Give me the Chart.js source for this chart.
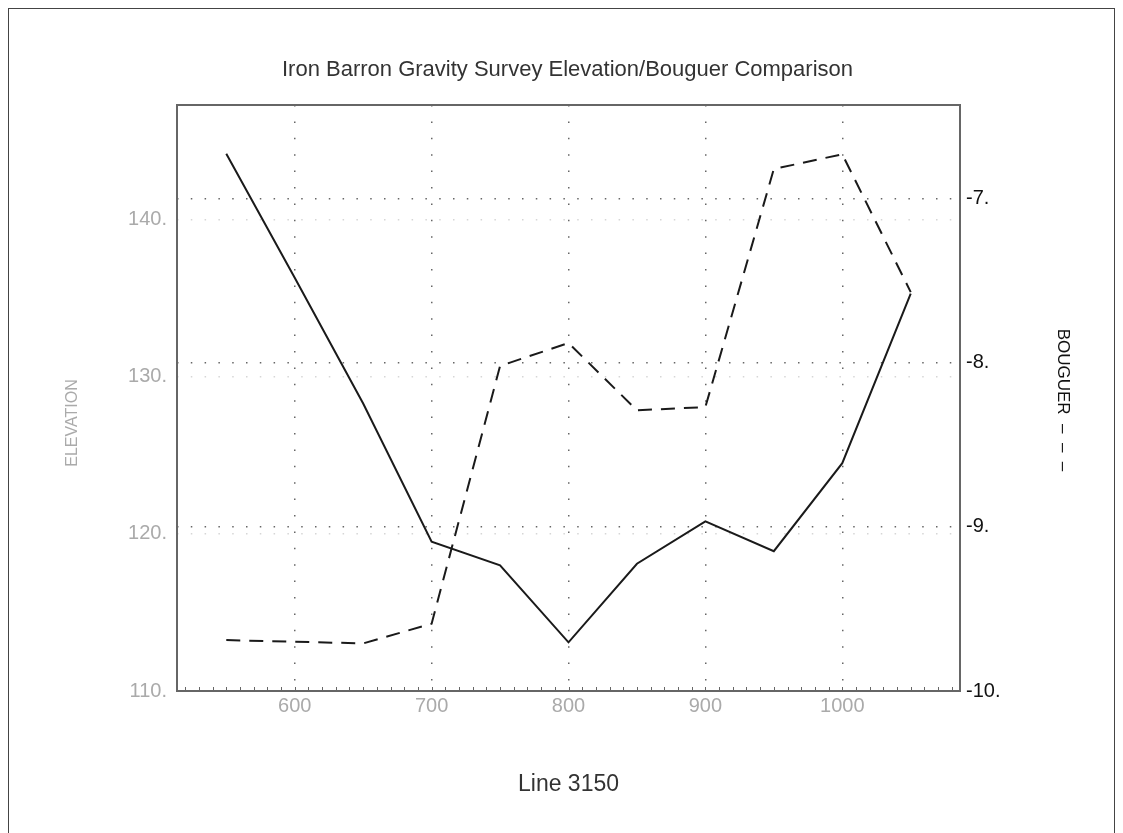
<!DOCTYPE html>
<html>
<head>
<meta charset="utf-8">
<script src="https://cdn.jsdelivr.net/npm/chart.js"></script>
<style>
  html, body { margin: 0; padding: 0; background: #fff; }
  canvas { display: block; }
</style>
</head>
<body>
<canvas id="myChart" width="1123" height="833"></canvas>
<script>
// station positions along the line and the two measured series
const stations = [550, 600, 650, 700, 750, 800, 850, 900, 950, 1000, 1050];
const elevation = [144.2, 136.3, 128.3, 119.5, 118.0, 113.1, 118.1, 120.8, 118.9, 124.5, 135.3];
const bouguer = [-9.69, -9.70, -9.71, -9.59, -8.02, -7.88, -8.29, -8.27, -6.82, -6.73, -7.57];

// tick labels
const xTicks = [600, 700, 800, 900, 1000];
const elevationTicks = [110, 120, 130, 140];
const bouguerTicks = [-10, -9, -8, -7];

const FONT = '"Liberation Sans", Arial, sans-serif';

const decor = {
  id: 'decor',
  beforeDraw(chart) {
    const ctx = chart.ctx;
    ctx.save();
    ctx.fillStyle = '#fff';
    ctx.fillRect(0, 0, chart.width, chart.height);
    ctx.restore();
  },
  afterDraw(chart) {
    const { ctx, chartArea: a, scales } = chart;
    ctx.save();
    // small minor ticks along the bottom axis, pointing inwards
    ctx.strokeStyle = '#666';
    ctx.lineWidth = 1;
    for (let v = 520; v <= 1080; v += 10) {
      const px = Math.round(scales.x.getPixelForValue(v)) + 0.5;
      ctx.beginPath();
      ctx.moveTo(px, a.bottom);
      ctx.lineTo(px, a.bottom - 4);
      ctx.stroke();
    }
    // plot frame
    ctx.lineWidth = 2;
    ctx.strokeStyle = '#666';
    ctx.strokeRect(a.left, a.top, a.right - a.left, a.bottom - a.top);
    // page border
    ctx.lineWidth = 1;
    ctx.strokeStyle = '#444';
    ctx.strokeRect(8.5, 8.5, 1106, 840);

    // axis titles
    ctx.textAlign = 'center';
    ctx.textBaseline = 'middle';
    ctx.font = '16px ' + FONT;
    ctx.fillStyle = '#aaa';
    ctx.save();
    ctx.translate(73, 423);
    ctx.rotate(-Math.PI / 2);
    ctx.fillText('ELEVATION', 0, 0);
    ctx.restore();

    ctx.font = '17px ' + FONT;
    ctx.fillStyle = '#111';
    ctx.save();
    ctx.translate(1063, 400);
    ctx.rotate(Math.PI / 2);
    ctx.fillText('BOUGUER  \u2013  \u2013  \u2013', 0, 0);
    ctx.restore();
    ctx.restore();
  }
};

new Chart(document.getElementById('myChart'), {
  type: 'line',
  data: {
    datasets: [
      {
        label: 'Elevation',
        data: stations.map((x, i) => ({ x: x, y: elevation[i] })),
        yAxisID: 'yL',
        borderColor: '#1a1a1a',
        borderWidth: 2,
        pointRadius: 0,
        tension: 0,
        fill: false
      },
      {
        label: 'Bouguer',
        data: stations.map((x, i) => ({ x: x, y: bouguer[i] })),
        yAxisID: 'yR',
        borderColor: '#1a1a1a',
        borderWidth: 2,
        borderDash: [14, 9],
        pointRadius: 0,
        tension: 0,
        fill: false
      }
    ]
  },
  options: {
    responsive: false,
    animation: false,
    devicePixelRatio: 1,
    layout: { padding: { left: 12, right: 0, top: 0, bottom: 0 } },
    plugins: {
      legend: { display: false },
      tooltip: { enabled: false },
      title: {
        display: true,
        text: 'Iron Barron Gravity Survey Elevation/Bouguer Comparison',
        color: '#333',
        font: { family: FONT, size: 22, weight: 'normal' },
        padding: { top: 57, bottom: 21.6 }
      }
    },
    scales: {
      x: {
        type: 'linear',
        position: 'bottom',
        min: 514,
        max: 1086,
        afterBuildTicks: s => { s.ticks = xTicks.map(v => ({ value: v })); },
        afterFit: s => { s.height = 142; },
        ticks: {
          color: '#aaa',
          font: { family: FONT, size: 20 },
          padding: 3,
          maxRotation: 0,
          autoSkip: false,
          callback: v => String(v)
        },
        grid: { color: '#666', lineWidth: 1.5, drawTicks: false },
        border: { display: false, dash: [1.5, 14.9] },
        title: {
          display: true,
          text: 'Line 3150',
          color: '#333',
          font: { family: FONT, size: 23 },
          padding: { top: 0, bottom: 35 }
        }
      },
      yL: {
        type: 'linear',
        position: 'left',
        min: 110,
        max: 147.3,
        afterBuildTicks: s => { s.ticks = elevationTicks.map(v => ({ value: v })); },
        afterFit: s => { s.width = 165; },
        ticks: {
          color: '#aaa',
          font: { family: FONT, size: 20 },
          padding: 10,
          callback: v => v + '.'
        },
        grid: { color: '#d6d6d6', lineWidth: 1.5, drawTicks: false },
        border: { display: false, dash: [1.5, 12.3] }
      },
      yR: {
        type: 'linear',
        position: 'right',
        min: -10,
        max: -6.43,
        afterBuildTicks: s => { s.ticks = bouguerTicks.map(v => ({ value: v })); },
        afterFit: s => { s.width = 163; },
        ticks: {
          color: '#111',
          font: { family: FONT, size: 20 },
          padding: 6,
          callback: v => v + '.'
        },
        grid: { color: '#666', lineWidth: 1.5, drawTicks: false },
        border: { display: false, dash: [1.5, 12.3] }
      }
    }
  },
  plugins: [decor]
});
</script>
</body>
</html>
